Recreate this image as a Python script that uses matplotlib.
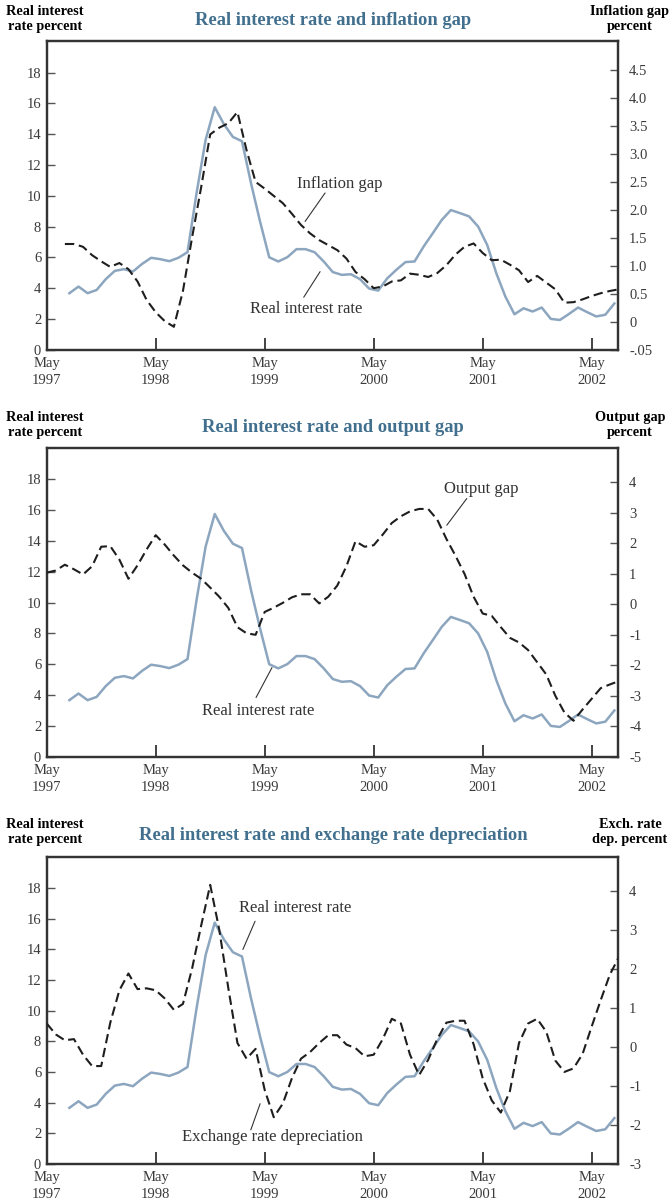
import numpy as np
import matplotlib.pyplot as plt

plt.rcParams['font.family'] = 'serif'
plt.rcParams['font.serif'] = ['Liberation Serif', 'DejaVu Serif']

# monthly real interest rate, Jul 1997 - Jul 2002 (left axis, percent)
real_rate = [3.67, 4.1, 3.67, 3.88, 4.58, 5.12, 5.23, 5.08, 5.57, 5.97,
             5.88, 5.75, 5.97, 6.33, 10.17, 13.64, 15.75, 14.66, 13.82, 13.54,
             10.8, 8.3, 6.0, 5.73, 6.01, 6.53, 6.53, 6.33, 5.73, 5.04,
             4.86, 4.9, 4.58, 3.97, 3.84, 4.64, 5.19, 5.69, 5.73, 6.7,
             7.56, 8.43, 9.07, 8.87, 8.66, 8.0, 6.8, 4.97, 3.45, 2.3,
             2.69, 2.48, 2.74, 2.0, 1.93, 2.32, 2.74, 2.44, 2.16, 2.27,
             3.0]

# inflation gap, Jul 1997 - Aug 2002
inflation_gap = [1.39, 1.39, 1.34, 1.19, 1.08, 0.98, 1.05, 0.94, 0.72, 0.39,
                 0.17, 0.01, -0.09, 0.55, 1.5, 2.4, 3.35, 3.47, 3.55, 3.75,
                 3.07, 2.5, 2.38, 2.25, 2.12, 1.93, 1.73, 1.58, 1.46, 1.37,
                 1.28, 1.13, 0.89, 0.76, 0.6, 0.63, 0.72, 0.74, 0.86, 0.84,
                 0.8, 0.87, 1.01, 1.2, 1.34, 1.4, 1.23, 1.1, 1.11, 1.02,
                 0.92, 0.71, 0.82, 0.7, 0.58, 0.34, 0.35, 0.4, 0.46, 0.51,
                 0.55, 0.58]

# output gap, May 1997 - Aug 2002
output_gap = [1.04, 1.11, 1.3, 1.15, 0.98, 1.25, 1.89, 1.91, 1.47, 0.84,
              1.28, 1.8, 2.27, 1.96, 1.6, 1.28, 1.04, 0.84, 0.55, 0.25,
              -0.12, -0.75, -0.95, -1.0, -0.25, -0.11, 0.05, 0.23, 0.33, 0.33,
              0.03, 0.25, 0.62, 1.25, 2.07, 1.89, 1.94, 2.29, 2.67, 2.89,
              3.05, 3.13, 3.13, 2.78, 2.15, 1.6, 1.0, 0.25, -0.3, -0.38,
              -0.75, -1.1, -1.25, -1.5, -1.9, -2.3, -3.0, -3.55, -3.82, -3.45,
              -3.1, -2.75, -2.63, -2.52]

# exchange rate depreciation, May 1997 - Aug 2002
exch_dep = [0.6, 0.32, 0.17, 0.2, -0.2, -0.49, -0.49, 0.62, 1.45, 1.88,
            1.48, 1.5, 1.45, 1.24, 0.95, 1.1, 2.0, 3.1, 4.15, 3.0,
            1.5, 0.1, -0.3, -0.05, -1.1, -1.8, -1.45, -0.8, -0.3, -0.13,
            0.1, 0.3, 0.3, 0.06, -0.03, -0.24, -0.2, 0.2, 0.72, 0.6,
            -0.2, -0.72, -0.33, 0.2, 0.62, 0.67, 0.67, 0.07, -0.8, -1.37,
            -1.68, -1.13, 0.1, 0.6, 0.72, 0.39, -0.35, -0.64, -0.55, -0.18,
            0.52, 1.2, 1.85, 2.3]

year_labels = ['May\n1997', 'May\n1998', 'May\n1999', 'May\n2000', 'May\n2001', 'May\n2002']

# months since May 1997
rate_x = 2.5 + np.arange(len(real_rate))
infl_x = 2.0 + np.arange(len(inflation_gap))
out_x = 0.0 + np.arange(len(output_gap))
exch_x = 0.0 + np.arange(len(exch_dep))

W, H = 672, 1203
fig = plt.figure(figsize=(W / 100, H / 100), dpi=100)

TITLE_COL = '#416f8e'
RATE_COL = '#8da6bf'
TICK_COL = '#3a3a3a'


def px(x, y):
    return x / W, 1 - y / H


def panel(top, bottom, title, title_y, lab_y, right_label, rx, ry, rlim, rticks, rticklabels):
    ax = fig.add_axes([46.7 / W, 1 - bottom / H, (618 - 46.7) / W, (bottom - top) / H])
    ax.plot(rate_x, real_rate, color=RATE_COL, lw=1.8, zorder=2)
    ax.set_xlim(0, 62.9)
    ax.set_ylim(0, 20.05)
    ax.set_yticks(range(0, 20, 2))
    ax.set_yticklabels([str(v) for v in range(0, 20, 2)], fontsize=10.5, color=TICK_COL)
    ax.set_xticks([0, 12, 24, 36, 48, 60])
    ax.set_xticklabels(year_labels, fontsize=10.5, color=TICK_COL, linespacing=1.4)
    ax.tick_params(axis='x', direction='in', length=9, width=1.2, color='#222222', pad=5)
    ax.tick_params(axis='y', direction='in', length=6, width=1, color='#555555', pad=4)

    ax2 = ax.twinx()
    ax2.plot(rx, ry, color='#1e1e1e', lw=1.5, dashes=(4.5, 2.3), zorder=3)
    ax2.set_ylim(*rlim)
    ax2.set_yticks(rticks)
    ax2.set_yticklabels(rticklabels, fontsize=10.5, color=TICK_COL)
    ax2.tick_params(axis='y', direction='in', length=6, width=1, color='#555555', pad=8)
    for a in (ax, ax2):
        for s in a.spines.values():
            s.set_linewidth(1.6)
            s.set_color('#333333')

    fig.text(*px(333, title_y), title, ha='center', va='center', fontsize=13.3,
             fontweight='bold', color=TITLE_COL)
    fig.text(*px(45, lab_y), 'Real interest\nrate percent', ha='center', va='center',
             fontsize=10.3, fontweight='bold', linespacing=1.15)
    fig.text(*px(630, lab_y), right_label, ha='center', va='center',
             fontsize=10.3, fontweight='bold', linespacing=1.15)
    return ax


ann = dict(fontsize=12, color='#333333', ha='center', va='center')
line = dict(arrowstyle='-', color='#333333', lw=0.8, shrinkA=0, shrinkB=0)

# panel 1
ax = panel(41, 349.7, 'Real interest rate and inflation gap', 20.7, 19,
           'Inflation gap\npercent', infl_x, inflation_gap, (-0.5, 5.02),
           [-0.5, 0, 0.5, 1.0, 1.5, 2.0, 2.5, 3.0, 3.5, 4.0, 4.5],
           ['-.05', '0', '0.5', '1.0', '1.5', '2.0', '2.5', '3.0', '3.5', '4.0', '4.5'])
ax.text(32.3, 10.76, 'Inflation gap', **ann)
ax.annotate('', xy=(28.45, 8.33), xytext=(30.65, 10.18), arrowprops=line)
ax.text(28.6, 2.63, 'Real interest rate', **ann)
ax.annotate('', xy=(30.1, 5.07), xytext=(28.3, 3.41), arrowprops=line)

# panel 2
ax = panel(447.7, 756.7, 'Real interest rate and output gap', 427.7, 425,
           'Output gap\npercent', out_x, output_gap, (-4.96, 5.14),
           [-5, -4, -3, -2, -1, 0, 1, 2, 3, 4],
           ['-5', '-4', '-3', '-2', '-1', '0', '1', '2', '3', '4'])
ax.text(47.8, 17.4, 'Output gap', **ann)
ax.annotate('', xy=(44.05, 15.02), xytext=(46.25, 16.75), arrowprops=line)
ax.text(23.3, 2.96, 'Real interest rate', **ann)
ax.annotate('', xy=(24.8, 5.78), xytext=(23.05, 3.84), arrowprops=line)

# panel 3
ax = panel(856.7, 1164.1, 'Real interest rate and exchange rate depreciation', 835, 832,
           'Exch. rate\ndep. percent', exch_x, exch_dep, (-3.0, 4.87),
           [-3, -2, -1, 0, 1, 2, 3, 4],
           ['-3', '-2', '-1', '0', '1', '2', '3', '4'])
ax.text(27.35, 16.7, 'Real interest rate', **ann)
ax.annotate('', xy=(21.6, 14.0), xytext=(22.94, 15.84), arrowprops=line)
ax.text(24.9, 1.75, 'Exchange rate depreciation', **ann)
ax.annotate('', xy=(23.5, 3.94), xytext=(22.47, 2.23), arrowprops=line)

fig.savefig('out.png', dpi=100)
